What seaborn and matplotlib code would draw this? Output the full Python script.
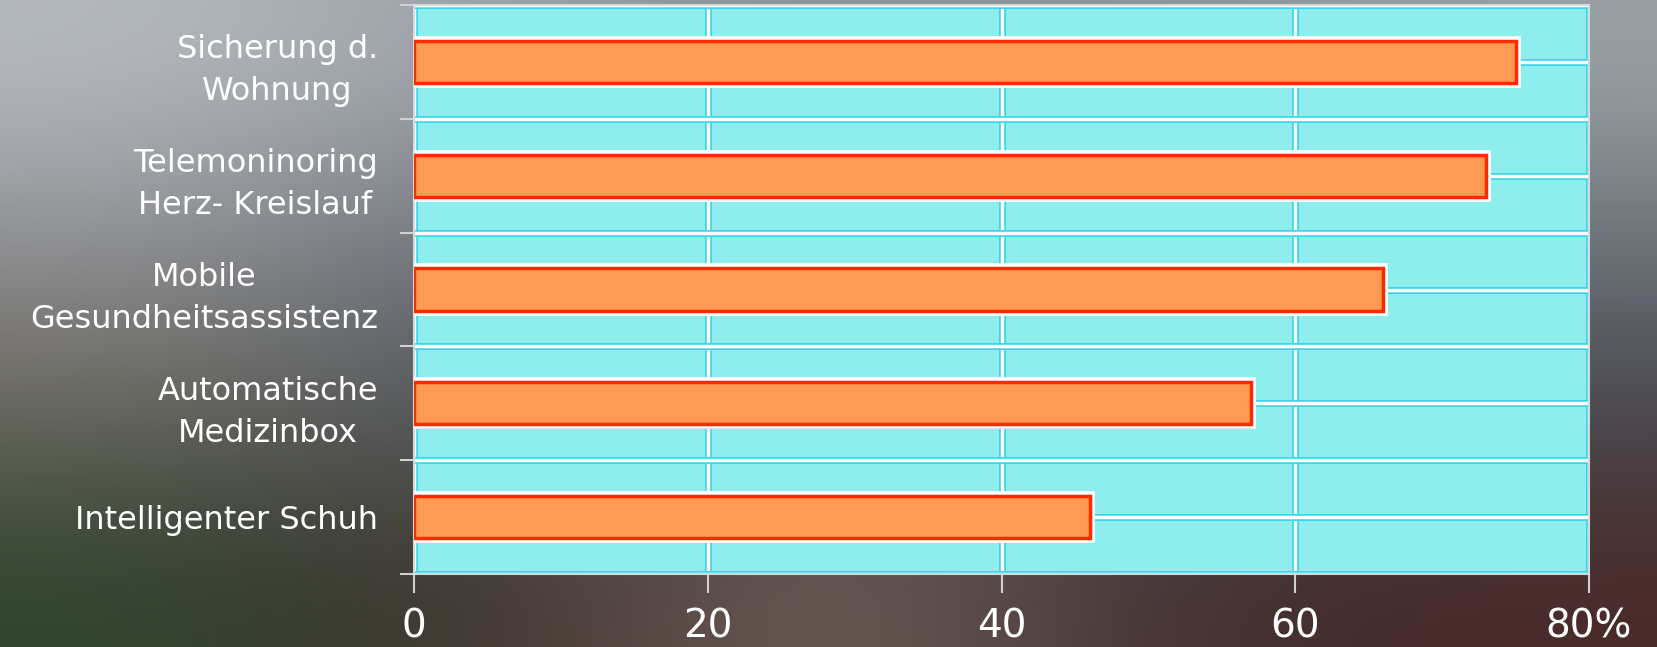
import matplotlib
matplotlib.use("Agg")
import matplotlib.pyplot as plt
import matplotlib.patheffects as pe
from matplotlib.colors import to_rgb
import numpy as np
import pandas as pd
import seaborn as sns

categories = [
    "Sicherung d.\nWohnung",
    "Telemoninoring\nHerz- Kreislauf",
    "Mobile\nGesundheitsassistenz",
    "Automatische\nMedizinbox",
    "Intelligenter Schuh",
]
values = [75, 73, 66, 57, 46]
x_ticks = [0, 20, 40, 60, 80]
x_tick_labels = ["0", "20", "40", "60", "80%"]

# blurred photo-like backdrop, rows top -> bottom, columns left -> right
bg_colors = [
    ["#b6bbc0", "#9ba1a8", "#8b929b", "#8f959d", "#9ba1a7"],
    ["#909195", "#6a7179", "#636a73", "#687079", "#6c7179"],
    ["#6d685f", "#4f565f", "#4a515a", "#4d525a", "#484a52"],
    ["#30452f", "#402f2d", "#75665d", "#3f2e30", "#4a2a28"],
]


def main() -> None:
    sns.set_theme(style="white")
    plt.rcParams["font.family"] = ["DejaVu Sans"]

    df = pd.DataFrame({"label": categories, "value": values})

    fig = plt.figure(figsize=(16.58, 6.47), dpi=100)

    bg = fig.add_axes([0, 0, 1, 1], zorder=-10)
    grid = np.array([[to_rgb(c) for c in row] for row in bg_colors])
    bg.imshow(grid, aspect="auto", interpolation="bicubic", extent=[0, 1, 0, 1])
    bg.set_axis_off()

    ax = fig.add_axes([0.2497, 0.1128, 0.7087, 0.8795])
    ax.set_facecolor("#8eeeee")

    sns.barplot(data=df, x="value", y="label", orient="h", color="#ff9a55",
                width=0.37, edgecolor="#ff2a00", linewidth=2.5, saturation=1, ax=ax)

    for bar in ax.patches:
        bar.set_zorder(3)
        bar.set_path_effects([
            pe.SimplePatchShadow(offset=(2, -3), shadow_rgbFace="#1c3f9a", alpha=0.9),
            pe.Stroke(linewidth=7, foreground="white"),
            pe.Normal(),
        ])

    ax.set_xlim(0, 80)
    ax.set_ylim(len(categories) - 0.5, -0.5)
    ax.set_xticks(x_ticks)
    ax.set_xticklabels(x_tick_labels)
    ax.set_yticks(np.arange(len(categories)))
    ax.set_yticks(np.arange(len(categories) + 1) - 0.5, minor=True)
    ax.set_xlabel("")
    ax.set_ylabel("")

    grid_fx = [pe.Stroke(linewidth=5, foreground="#3ad6ea"), pe.Normal()]
    ax.set_axisbelow(True)
    ax.grid(axis="x", which="major", color="white", linewidth=2.5, path_effects=grid_fx)
    ax.grid(axis="y", which="both", color="white", linewidth=2.5, path_effects=grid_fx)

    ax.tick_params(axis="y", which="major", length=0, pad=26, labelsize=23, labelcolor="white")
    ax.tick_params(axis="y", which="minor", left=True, length=10, width=1.5, color="#d0d0d0")
    ax.tick_params(axis="x", which="major", bottom=True, length=14, width=1.5, color="#d0d0d0",
                   pad=10, labelsize=28, labelcolor="white")
    for lab in ax.get_yticklabels():
        lab.set_multialignment("center")
        lab.set_linespacing(1.45)

    for side in ["left", "bottom", "right", "top"]:
        ax.spines[side].set_color("#d8d8d8")
        ax.spines[side].set_linewidth(1.5)

    fig.savefig("out.png", dpi=100)
    plt.close(fig)


if __name__ == "__main__":
    main()
